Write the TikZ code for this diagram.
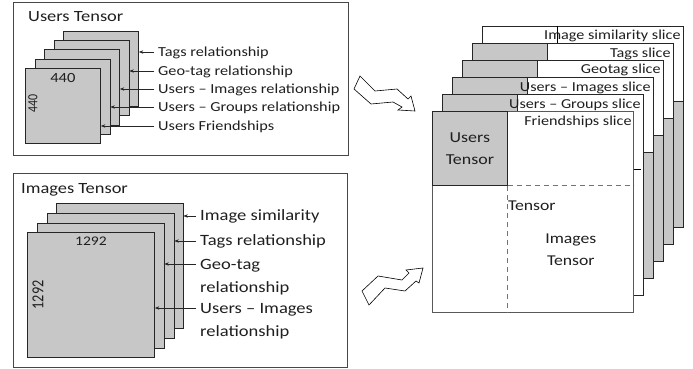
\documentclass[tikz,border=0pt]{standalone}
\usepackage{fontspec}
\setmainfont{Carlito}[FakeStretch=1.18]
\newfontfamily\narrowfont{Carlito}[FakeStretch=0.85]
\usepackage{tikz}
\usetikzlibrary{arrows.meta,calc,positioning}
\tikzstyle{panel} = [draw=frameGray,line width=0.8pt,inner sep=0pt,anchor=north west]
\tikzstyle{slice} = [draw=black!85,fill=sliceGray,line width=0.8pt,inner sep=0pt,anchor=north west]
\tikzstyle{layer} = [draw=black!85,fill=white,line width=0.8pt,inner sep=0pt,anchor=north west,minimum width=201pt,minimum height=201pt]
\tikzstyle{block} = [draw=black!85,fill=sliceGray,line width=0.8pt]
\tikzstyle{ptitle} = [anchor=base west,inner sep=0pt,text=textGray,font=\fontsize{15.6}{18}\selectfont]
\tikzstyle{rel} = [anchor=west,inner sep=4pt,text height=8.7pt,text depth=0pt,text=textGray,font=\fontsize{13.8}{16}\selectfont]
\tikzstyle{relbig} = [anchor=north west,inner sep=4pt,align=left,text=textGray,font=\fontsize{15.7}{23}\selectfont]
\tikzstyle{relone} = [relbig,anchor=west,text height=9.9pt,text depth=0pt]
\tikzstyle{slicelabel} = [anchor=base east,inner sep=0pt,text=textGray,font=\fontsize{13.7}{16}\selectfont]
\tikzstyle{dimtext} = [inner sep=0pt,text=textGray]
\tikzstyle{pointer} = [->,draw=black!85,line width=0.7pt]
\tikzstyle{divider} = [draw=black!55,line width=0.8pt,dash pattern=on 5pt off 4pt]
\tikzstyle{zigzag} = [draw=black,line width=0.6pt,line join=miter]
\colorlet{sliceGray}{black!22}
\colorlet{frameGray}{black!72}
\colorlet{textGray}{black!88}

\begin{document}
\begin{tikzpicture}[x=1pt,y=-1pt]
%
\tikzset{>={Stealth[length=4.5pt,width=3.4pt]}}
\useasboundingbox (0,0) rectangle (693,369);

% users tensor
\node (upanel) [panel,minimum width=335pt,minimum height=153pt] at (13,2) {};
\node (utitle) [ptitle] at ($(upanel.north west)+(15,20)$) {Users Tensor};
\node (u5) [slice,minimum width=75pt,minimum height=75pt] at (63,31) {};
\node (u4) [slice,minimum width=75pt,minimum height=75pt] at (53.5,40.3) {};
\node (u3) [slice,minimum width=75pt,minimum height=75pt] at (44,49.5) {};
\node (u2) [slice,minimum width=75pt,minimum height=75pt] at (34.5,58.8) {};
\node (u1) [slice,minimum width=75pt,minimum height=75pt] at (25,68) {};
\node (uwide) [dimtext,font=\fontsize{14}{16}\selectfont] at ($(u1.north)+(0,10)$) {440};
\node (uhigh) [dimtext,rotate=90,font=\narrowfont\fontsize{14}{16}\selectfont] at ($(u1.west)+(8,-2)$) {440};

\node (utags) [rel] at (154,52) {Tags relationship};
\node (ugeo) [rel] at (154,71) {Geo-tag relationship};
\node (uimg) [rel] at (154,89) {Users -- Images relationship};
\node (ugrp) [rel] at (154,107) {Users -- Groups relationship};
\node (ufri) [rel] at (154,126) {Users Friendships};
\draw [pointer] (utags.west) -- (utags.west -| u5.east);
\draw [pointer] (ugeo.west) -- (ugeo.west -| u4.east);
\draw [pointer] (uimg.west) -- (uimg.west -| u3.east);
\draw [pointer] (ugrp.west) -- (ugrp.west -| u2.east);
\draw [pointer] (ufri.west) -- (ufri.west -| u1.east);

% images tensor
\node (ipanel) [panel,minimum width=334pt,minimum height=194pt] at (13,173) {};
\node (ititle) [ptitle] at ($(ipanel.north west)+(8,20)$) {Images Tensor};
\node (i4) [slice,minimum width=127pt,minimum height=125pt] at (55.5,203) {};
\node (i3) [slice,minimum width=127pt,minimum height=125pt] at (46.5,213) {};
\node (i2) [slice,minimum width=127pt,minimum height=125pt] at (36.5,222.5) {};
\node (i1) [slice,minimum width=127pt,minimum height=125pt] at (27,232) {};
\node (iwide) [dimtext,font=\fontsize{13.2}{16}\selectfont] at ($(i1.north)+(0,9)$) {1292};
\node (ihigh) [dimtext,rotate=90,font=\narrowfont\fontsize{16.8}{18}\selectfont] at ($(i1.west)+(11,0)$) {1292};

\node (isim) [relone] at (196,216) {Image similarity};
\node (itags) [relone] at (196,241) {Tags relationship};
\node (igeo) [relbig] at (196,255) {Geo-tag\\relationship};
\node (iusr) [relbig] at (196,299) {Users -- Images\\relationship};
\coordinate (igeoend) at ([yshift=-9pt]igeo.north west);
\coordinate (iusrend) at ([yshift=-9pt]iusr.north west);
\draw [pointer] (isim.west) -- (isim.west -| i4.east);
\draw [pointer] (itags.west) -- (itags.west -| i3.east);
\draw [pointer] (igeoend) -- (igeoend -| i2.east);
\draw [pointer] (iusrend) -- (iusrend -| i1.east);

% bent arrows
\draw [zigzag] (360,76) -- (375,91) -- (397,89) -- (408,99) -- (411,96) -- (415,111)
  -- (398,110) -- (402,107) -- (393,102) -- (371,104) -- (354,89) -- cycle;
\draw [zigzag] (362,291) -- (378,276) -- (402,280) -- (409,273) -- (406,270) -- (423,268)
  -- (419,283) -- (416,281) -- (405,291) -- (385,288) -- (369,305) -- cycle;

% tensor slices
\node (r6) [layer] at (482,26) {};
\draw [block] ($(r6.north west)+(75,75)$) rectangle (r6.south east);
\draw [line width=0.8pt] ($(r6.north west)+(75,0)$) -- ++(0,17);
\node (l6) [slicelabel] at ($(r6.north east)+(-3,14)$) {Image similarity slice};

\node (r5) [layer] at (472,43) {};
\draw [block] (r5.north west) rectangle ++(75,75);
\draw [block] ($(r5.north west)+(75,75)$) rectangle (r5.south east);
\node (l5) [slicelabel] at ($(r5.north east)+(-3,14)$) {Tags slice};

\node (r4) [layer] at (462,60) {};
\draw [block] (r4.north west) rectangle ++(75,75);
\draw [block] ($(r4.north west)+(75,75)$) rectangle (r4.south east);
\node (l4) [slicelabel] at ($(r4.north east)+(-3,14)$) {Geotag slice};

\node (r3) [layer] at (452,77) {};
\draw [block] (r3.north west) rectangle ++(75,75);
\draw [block] ($(r3.north west)+(75,75)$) rectangle (r3.south east);
\node (l3) [slicelabel] at ($(r3.north east)+(-3,14)$) {Users -- Images slice};

\node (r2) [layer] at (442,94) {};
\draw [block] (r2.north west) rectangle ++(75,75);
\draw [line width=0.8pt] ($(r2.north west)+(75,75)$) -- ($(r2.north east)+(-3,75)$);
\node (l2) [slicelabel] at ($(r2.north east)+(-3,14)$) {Users -- Groups slice};

\node (r1) [layer,draw=black!65] at (432,111) {};
\node (usersT) [block,anchor=north west,inner sep=0pt,minimum width=75pt,minimum height=74pt,align=center,text=textGray,font=\fontsize{15.2}{22}\selectfont] at (r1.north west) {Users\\Tensor};
\draw [divider] (usersT.south east) -- (usersT.south east -| r1.east);
\draw [divider] (usersT.south east) -- (usersT.south east |- r1.south);
\node (l1) [slicelabel] at ($(r1.north east)+(-2,14)$) {Friendships slice};
\node (tensor) [anchor=west,inner sep=0pt,text=textGray,font=\fontsize{15}{18}\selectfont] at ($(usersT.south east)+(0,20)$) {Tensor};
\node (imagesT) [align=center,inner sep=0pt,text=textGray,font=\fontsize{15}{22}\selectfont] at ($(usersT.south east)!0.5!(r1.south east)$) {Images\\Tensor};
\end{tikzpicture}
\end{document}
